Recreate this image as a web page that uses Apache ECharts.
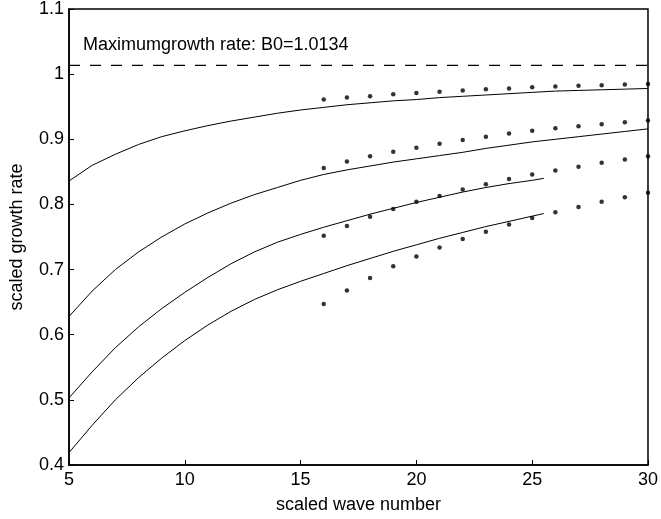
<!DOCTYPE html>
<html>
<head>
<meta charset="utf-8">
<script src="https://cdn.jsdelivr.net/npm/echarts@6/dist/echarts.min.js"></script>
<style>
html,body{margin:0;padding:0;background:#fff;}
#chart{width:661px;height:519px;}
</style>
</head>
<body>
<div id="chart"></div>
<script>
// Solid curves (x, scaled growth rate)
var curveX = [5, 6, 7, 8, 9, 10, 11, 12, 13, 14, 15, 16, 17, 18, 19, 20, 21, 22, 23, 24, 25, 26, 27, 28, 29, 30];
var curve1 = [0.836, 0.860, 0.877, 0.892, 0.904, 0.913, 0.921, 0.928, 0.934, 0.940, 0.945, 0.949, 0.953, 0.956, 0.959, 0.961, 0.964, 0.966, 0.968, 0.970, 0.972, 0.974, 0.975, 0.976, 0.977, 0.978];
var curve2 = [0.628, 0.667, 0.700, 0.727, 0.750, 0.770, 0.787, 0.802, 0.815, 0.826, 0.837, 0.846, 0.853, 0.859, 0.865, 0.870, 0.875, 0.880, 0.886, 0.891, 0.896, 0.900, 0.904, 0.908, 0.912, 0.916];
var curve3X = [5, 6, 7, 8, 9, 10, 11, 12, 13, 14, 15, 16, 17, 18, 19, 20, 21, 22, 23, 24, 25, 25.5];
var curve3 = [0.503, 0.543, 0.580, 0.612, 0.640, 0.665, 0.688, 0.709, 0.727, 0.742, 0.754, 0.765, 0.775, 0.785, 0.794, 0.803, 0.811, 0.819, 0.826, 0.832, 0.837, 0.840];
var curve4 = [0.419, 0.461, 0.500, 0.534, 0.564, 0.591, 0.615, 0.636, 0.654, 0.669, 0.682, 0.694, 0.706, 0.717, 0.728, 0.738, 0.748, 0.757, 0.766, 0.774, 0.782, 0.786];

// Dotted series
var dotX = [16, 17, 18, 19, 20, 21, 22, 23, 24, 25, 26, 27, 28, 29, 30];
var dots1 = [0.961, 0.964, 0.966, 0.969, 0.971, 0.973, 0.975, 0.977, 0.978, 0.980, 0.981, 0.982, 0.983, 0.984, 0.985];
var dots2 = [0.856, 0.866, 0.874, 0.881, 0.887, 0.893, 0.899, 0.904, 0.909, 0.913, 0.917, 0.920, 0.923, 0.926, 0.929];
var dots3 = [0.752, 0.767, 0.781, 0.793, 0.804, 0.813, 0.823, 0.831, 0.839, 0.846, 0.852, 0.858, 0.864, 0.869, 0.874];
var dots4 = [0.647, 0.668, 0.687, 0.705, 0.720, 0.734, 0.747, 0.758, 0.769, 0.779, 0.788, 0.796, 0.804, 0.811, 0.818];

var maxRate = 1.0134;
var maxLabel = 'Maximumgrowth rate: B0=1.0134';
var xTicks = [5, 10, 15, 20, 25, 30];
var yTicks = [0.4, 0.5, 0.6, 0.7, 0.8, 0.9, 1, 1.1];

function pairs(xs, ys) { return ys.map(function (y, i) { return [xs[i], y]; }); }

var FONT = 'Liberation Sans';
var FS = 18;
var chart = echarts.init(document.getElementById('chart'), null, {renderer: 'canvas'});

function lineSeries(xs, ys) {
  return {type: 'line', data: pairs(xs, ys), showSymbol: false, smooth: false,
    lineStyle: {color: '#000', width: 1}, silent: true, z: 3};
}
function dotSeries(ys) {
  return {type: 'scatter', data: pairs(dotX, ys), symbol: 'circle', symbolSize: 4.5,
    itemStyle: {color: '#000'}, silent: true, z: 4, clip: false};
}

chart.setOption({
  animation: false,
  backgroundColor: '#fff',
  grid: {left: 63.5, right: 11, top: 5, bottom: 53, show: true, borderColor: '#000', borderWidth: 1.5},
  xAxis: {
    type: 'value', min: 5, max: 30, interval: 5,
    name: 'scaled wave number', nameLocation: 'middle', nameGap: 31,
    nameTextStyle: {color: '#000', fontFamily: FONT, fontSize: FS},
    axisLine: {lineStyle: {color: '#000', width: 1.5}},
    axisTick: {inside: true, length: 5, lineStyle: {color: '#000', width: 1}},
    axisLabel: {color: '#000', fontFamily: FONT, fontSize: FS, margin: 6},
    splitLine: {show: false}
  },
  yAxis: {
    type: 'value', min: 0.4, max: 1.1, interval: 0.1,
    name: 'scaled growth rate', nameLocation: 'middle', nameGap: 43,
    nameTextStyle: {color: '#000', fontFamily: FONT, fontSize: FS},
    axisLine: {lineStyle: {color: '#000', width: 1.5}},
    axisTick: {inside: true, length: 5, lineStyle: {color: '#000', width: 1}},
    axisLabel: {color: '#000', fontFamily: FONT, fontSize: FS, margin: 5,
      formatter: function (v) { return String(Math.round(v * 10) / 10); }},
    splitLine: {show: false}
  },
  series: [
    lineSeries(curveX, curve1),
    lineSeries(curveX, curve2),
    lineSeries(curve3X, curve3),
    lineSeries(curve3X, curve4),
    dotSeries(dots1), dotSeries(dots2), dotSeries(dots3), dotSeries(dots4),
    {
      type: 'line', data: [[5, maxRate], [30, maxRate]], showSymbol: false,
      lineStyle: {color: '#000', width: 1.2, type: [11, 10]}, silent: true, z: 3,
      markPoint: {
        symbol: 'rect', symbolSize: 0,
        data: [{coord: [5.6, maxRate], value: 0,
          label: {show: true, formatter: maxLabel, position: 'top', distance: 11,
            align: 'left', color: '#000', fontFamily: FONT, fontSize: FS}}]
      }
    }
  ]
});
</script>
</body>
</html>
